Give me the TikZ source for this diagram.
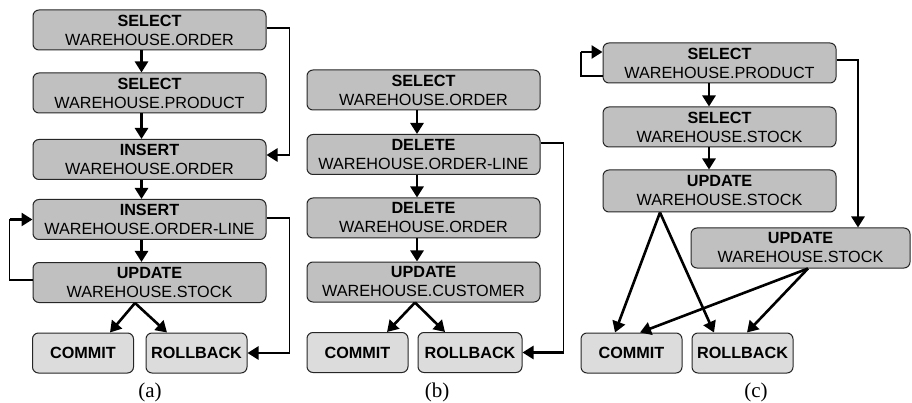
\documentclass[tikz,border=0pt]{standalone}
\usepackage{fontspec}
\setmainfont{Liberation Sans}
\newfontfamily\capfont{Liberation Serif}
\usetikzlibrary{arrows.meta}
\definecolor{opgray}{HTML}{C0C0C0}
\definecolor{endgray}{HTML}{DCDCDC}
\begin{document}
\begin{tikzpicture}[x=1pt,y=-1pt,
  box/.style={draw=black!85, line width=1pt, rounded corners=6pt, fill=opgray,
    minimum width=233pt, minimum height=40pt, inner sep=0pt, align=center,
    font=\fontsize{16.2}{19}\selectfont},
  endbox/.style={box, fill=endgray, minimum width=101pt,
    font=\fontsize{16.2}{19}\selectfont\bfseries},
  flow/.style={line width=2.6pt, -{Triangle[length=11pt,width=13pt]}},
  link/.style={line width=1.5pt},
  captext/.style={font=\capfont\fontsize{21}{24}\selectfont, inner sep=0pt}
]
\useasboundingbox (0,0) rectangle (912,403);
% ---------- (a) ----------
\node[box] (a1) at (149.5,30) {\textbf{SELECT}\\WAREHOUSE.ORDER};
\node[box] (a2) at (149.5,93) {\textbf{SELECT}\\WAREHOUSE.PRODUCT};
\node[box] (a3) at (149.5,159.5) {\textbf{INSERT}\\WAREHOUSE.ORDER};
\node[box] (a4) at (149.5,219.5) {\textbf{INSERT}\\WAREHOUSE.ORDER-LINE};
\node[box] (a5) at (149.5,282.5) {\textbf{UPDATE}\\WAREHOUSE.STOCK};
\node[endbox] (aC) at (83,353) {COMMIT};
\node[endbox] (aR) at (196.5,353) {ROLLBACK};
\node[captext] (la) at (150,392) {(a)};
\draw[flow] ([xshift=-8pt]a1.south) -- ([xshift=-8pt]a2.north);
\draw[flow] ([xshift=-8pt]a2.south) -- ([xshift=-8pt]a3.north);
\draw[flow] ([xshift=-8pt]a3.south) -- ([xshift=-8pt]a4.north);
\draw[flow] ([xshift=-8pt]a4.south) -- ([xshift=-8pt]a5.north);
\draw[flow] ([xshift=-14.5pt]a5.south) -- ([xshift=27pt]aC.north);
\draw[flow] ([xshift=-14.5pt]a5.south) -- ([xshift=-29.5pt]aR.north);
\draw[link] ([yshift=2pt]a1.east) -| ([xshift=23pt,yshift=4.5pt]a3.east);
\draw[flow] ([xshift=23pt,yshift=4.5pt]a3.east) -- ([yshift=4.5pt]a3.east);
\draw[link] ([yshift=1.5pt]a4.east) -| ([xshift=42pt]aR.east);
\draw[flow] ([xshift=42pt]aR.east) -- (aR.east);
\draw[link] ([yshift=2.5pt]a5.west) -| ([xshift=-23pt]a4.west);
\draw[flow] ([xshift=-23pt]a4.west) -- (a4.west);
% ---------- (b) ----------
\node[box] (b1) at (423.5,90) {\textbf{SELECT}\\WAREHOUSE.ORDER};
\node[box] (b2) at (423.5,154.5) {\textbf{DELETE}\\WAREHOUSE.ORDER-LINE};
\node[box] (b3) at (423.5,218) {\textbf{DELETE}\\WAREHOUSE.ORDER};
\node[box] (b4) at (423.5,282) {\textbf{UPDATE}\\WAREHOUSE.CUSTOMER};
\node[endbox] (bC) at (357.5,352.5) {COMMIT};
\node[endbox, minimum width=104pt] (bR) at (470,352.5) {ROLLBACK};
\node[captext] (lb) at (437,392) {(b)};
\draw[flow] ([xshift=-6.5pt]b1.south) -- ([xshift=-6.5pt]b2.north);
\draw[flow] ([xshift=-6.5pt]b2.south) -- ([xshift=-6.5pt]b3.north);
\draw[flow] ([xshift=-6.5pt]b3.south) -- ([xshift=-6.5pt]b4.north);
\draw[flow] ([xshift=-8.5pt]b4.south) -- ([xshift=29.5pt]bC.north);
\draw[flow] ([xshift=-8.5pt]b4.south) -- ([xshift=-25pt]bR.north);
\draw[link] ([yshift=11.5pt]b2.east) -| ([xshift=41pt]bR.east);
\draw[flow] ([xshift=41pt]bR.east) -- (bR.east);
% ---------- (c) ----------
\node[box] (c1) at (719.5,63) {\textbf{SELECT}\\WAREHOUSE.PRODUCT};
\node[box] (c2) at (719.5,127) {\textbf{SELECT}\\WAREHOUSE.STOCK};
\node[box, minimum height=42pt] (c3) at (719.5,191) {\textbf{UPDATE}\\WAREHOUSE.STOCK};
\node[box, minimum width=219pt] (c4) at (800.5,248) {\textbf{UPDATE}\\WAREHOUSE.STOCK};
\node[endbox] (cC) at (631.5,353) {COMMIT};
\node[endbox] (cR) at (742.5,353) {ROLLBACK};
\node[captext] (lc) at (756,392) {(c)};
\draw[flow] ([xshift=-10.5pt]c1.south) -- ([xshift=-10.5pt]c2.north);
\draw[flow] ([xshift=-10.5pt]c2.south) -- ([xshift=-10.5pt]c3.north);
\draw[link, line width=2pt] ([yshift=-13pt]c1.west) -| ([xshift=-22pt,yshift=11pt]c1.west);
\draw[flow] ([xshift=-22pt,yshift=11pt]c1.west) -- ([yshift=11pt]c1.west);
\draw[link] ([yshift=3pt]c1.east) -| ([xshift=57.5pt,yshift=160pt]c4.north);
\draw[flow] ([xshift=57.5pt,yshift=160pt]c4.north) -- ([xshift=57.5pt]c4.north);
\draw[flow] ([xshift=-59.5pt]c3.south) -- ([xshift=-16.5pt]cC.north);
\draw[flow] ([xshift=-59.5pt]c3.south) -- ([xshift=-28.5pt]cR.north);
\draw[flow] ([xshift=7.5pt]c4.south) -- ([xshift=8.5pt]cC.north);
\draw[flow] ([xshift=7.5pt]c4.south) -- ([xshift=4.5pt]cR.north);
\end{tikzpicture}
\end{document}
